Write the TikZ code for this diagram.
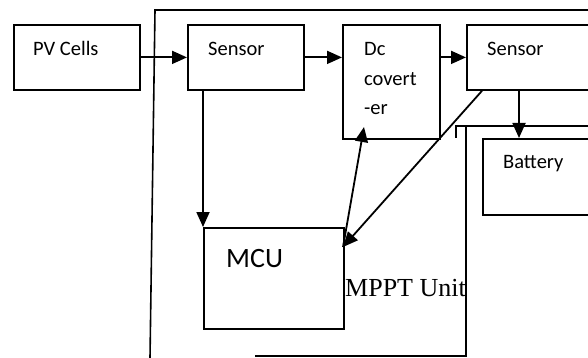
\documentclass[tikz,border=0pt]{standalone}
\usepackage{fontspec}
\setmainfont{Carlito}
\newfontfamily\unitfont{Liberation Serif}
\usetikzlibrary{arrows.meta}
\usetikzlibrary{calc}

\tikzset{
  blk/.style={draw,line width=1.8pt,inner sep=0pt,anchor=north west},
  lbl/.style={anchor=base west,inner sep=0pt,font=\fontsize{20.5}{29.5}\selectfont},
  flow/.style={line width=1.8pt,-{Triangle[length=15pt,width=13pt]}},
}

\begin{document}
\begin{tikzpicture}[x=1pt,y=-1pt]
  \useasboundingbox (0,0) rectangle (588,358);
  \clip (0,0) rectangle (588,358);
  % 方框
  \node[blk,minimum width=126pt,minimum height=65pt] (pv) at (13,24) {};
  \node[blk,minimum width=116pt,minimum height=65pt] (sone) at (187,24) {};
  \node[blk,minimum width=97pt,minimum height=114pt] (dcc) at (342,24) {};
  \node[blk,minimum width=140pt,minimum height=65pt] (stwo) at (466,24) {};
  \node[blk,minimum width=130pt,minimum height=76pt] (bat) at (482,138) {};
  \node[blk,minimum width=140pt,minimum height=101pt] (mcu) at (203,227) {};
  % 文字
  \node[lbl] (pvt) at (33,56) {PV Cells};
  \node[lbl] (sonet) at (208,56) {Sensor};
  \node[lbl,align=left] (dcct) at (364,115) {Dc\\covert\\-er};
  \node[lbl] (stwot) at (487,56) {Sensor};
  \node[lbl] (batt) at (503,168) {Battery};
  \node[lbl,font=\fontsize{28}{34}\selectfont] (mcut) at (226,267) {MCU};
  \node[anchor=base west,inner sep=0pt,font=\unitfont\fontsize{26}{30}\selectfont] (unit) at (345,296) {MPPT Unit};
  % 外框
  \draw[line width=1.6pt] (588,10) -- (155,10) -- (150,358);
  \draw[line width=1.6pt] (255,356) -- (466,356) -- (466,127);
  \draw[line width=1.6pt] (456,138) -- (456,126) -- (588,126);
  % 箭头
  \coordinate (batin) at (519,138);
  \coordinate (mcuin) at (343,247);
  \coordinate (dccin) at (364,127);
  \draw[flow] (pv) -- (sone);
  \draw[flow] (sone.east) -- (sone.east -| dcc.west);
  \draw[flow] (dcc.east |- stwo.west) -- (stwo.west);
  \draw[flow] (mcu.north west |- sone.south) -- (mcu.north west);
  \draw[flow] (batin |- stwo.south) -- (batin);
  \draw[flow] (bat.north west |- stwo.south) -- (mcuin);
  \draw[flow] (mcuin) -- (dccin);
\end{tikzpicture}
\end{document}
